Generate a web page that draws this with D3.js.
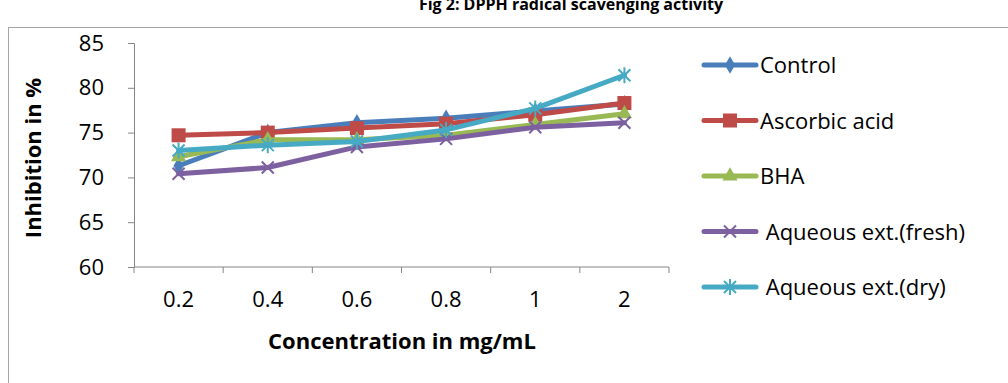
<!DOCTYPE html>
<html>
<head>
<meta charset="utf-8">
<script src="https://cdn.jsdelivr.net/npm/d3@7"></script>
<style>
  body { margin: 0; background: #fff; }
  svg { display: block; font-family: "Open Sans", "Liberation Sans", sans-serif; }
</style>
</head>
<body>
<div id="chart"></div>
<script>
// Data
const categories = ['0.2', '0.4', '0.6', '0.8', '1', '2'];
const seriesNames = ['Control', 'Ascorbic acid', 'BHA', ' Aqueous ext.(fresh)', ' Aqueous ext.(dry)'];
const controlValues = [71.3, 75.0, 76.1, 76.6, 77.4, 78.2];
const ascorbicValues = [74.7, 75.0, 75.5, 76.0, 77.0, 78.3];
const bhaValues = [72.3, 74.2, 74.2, 74.7, 75.9, 77.1];
const freshValues = [70.4, 71.1, 73.4, 74.3, 75.6, 76.1];
const dryValues = [73.0, 73.6, 74.0, 75.3, 77.7, 81.4];
const yTicks = [60, 65, 70, 75, 80, 85];

const colors = ['#4A7EBB', '#BE4B48', '#98B954', '#7D60A0', '#46AAC5'];
const markers = ['diamond', 'square', 'triangle', 'x', 'star'];
const allValues = [controlValues, ascorbicValues, bhaValues, freshValues, dryValues];

const width = 1008;
const height = 383;
const margin = { top: 43, right: 339, bottom: 116, left: 134 };
const fontFamily = '"Open Sans", sans-serif';

const svg = d3.select('#chart')
  .append('svg')
  .attr('width', width)
  .attr('height', height);

// outer frame
svg.append('rect')
  .attr('x', 8.5)
  .attr('y', 27.5)
  .attr('width', 1010)
  .attr('height', 400)
  .attr('fill', 'none')
  .attr('stroke', '#a6a6a6')
  .attr('stroke-width', 1);

// title (cut off at top in the reference)
svg.append('text')
  .attr('x', 571)
  .attr('y', 10)
  .attr('text-anchor', 'middle')
  .attr('font-size', '16px')
  .attr('font-weight', 'bold')
  .text('Fig 2: DPPH radical scavenging activity');

const x = d3.scaleBand()
  .domain(categories)
  .range([margin.left, width - margin.right]);

const y = d3.scaleLinear()
  .domain([60, 85])
  .range([height - margin.bottom, margin.top]);

// y axis
const yAxis = svg.append('g')
  .attr('transform', `translate(${margin.left},0)`)
  .call(d3.axisLeft(y).tickValues(yTicks).tickSize(6).tickPadding(24));
yAxis.selectAll('text').attr('font-size', '22px').attr('fill', '#000').attr('font-family', fontFamily);

// x axis: ticks at category boundaries
const xAxis = svg.append('g')
  .attr('transform', `translate(0,${y(60)})`)
  .call(d3.axisBottom(x).tickSize(0).tickPadding(24));
xAxis.selectAll('text').attr('font-size', '22px').attr('fill', '#000').attr('font-family', fontFamily);
const bounds = categories.map(c => x(c)).concat([x.range()[1]]);
xAxis.selectAll('.boundary')
  .data(bounds)
  .enter()
  .append('line')
  .attr('x1', d => d)
  .attr('x2', d => d)
  .attr('y1', 0)
  .attr('y2', 6)
  .attr('stroke', '#868686');

svg.selectAll('.domain, .tick line').attr('stroke', '#868686');
xAxis.select('.domain').attr('d', `M${margin.left},0H${width - margin.right}`);

// axis titles
svg.append('text')
  .attr('x', 402)
  .attr('y', 349)
  .attr('text-anchor', 'middle')
  .attr('font-size', '22px')
  .attr('font-weight', 'bold')
  .text('Concentration in mg/mL');

svg.append('text')
  .attr('transform', 'rotate(-90)')
  .attr('x', -158)
  .attr('y', 41)
  .attr('text-anchor', 'middle')
  .attr('font-size', '22px')
  .attr('font-weight', 'bold')
  .text('Inhibition in %');

function drawMarker(g, type, color, cx, cy) {
  if (type === 'diamond') {
    g.append('path').attr('d', d3.symbol(d3.symbolDiamond, 90)()).attr('transform', `translate(${cx},${cy})`).attr('fill', color);
  } else if (type === 'square') {
    g.append('rect').attr('x', cx - 7).attr('y', cy - 7).attr('width', 14).attr('height', 14).attr('fill', color);
  } else if (type === 'triangle') {
    g.append('path').attr('d', d3.symbol(d3.symbolTriangle, 100)()).attr('transform', `translate(${cx},${cy})`).attr('fill', color);
  } else if (type === 'x') {
    g.append('path').attr('d', `M${cx - 6},${cy - 6}L${cx + 6},${cy + 6}M${cx - 6},${cy + 6}L${cx + 6},${cy - 6}`)
      .attr('stroke', color).attr('stroke-width', 2).attr('fill', 'none');
  } else if (type === 'star') {
    g.append('path').attr('d', `M${cx - 6},${cy - 6}L${cx + 6},${cy + 6}M${cx - 6},${cy + 6}L${cx + 6},${cy - 6}M${cx},${cy - 8}L${cx},${cy + 8}`)
      .attr('stroke', color).attr('stroke-width', 2).attr('fill', 'none');
  }
}

const line = d3.line()
  .x((d, i) => x(categories[i]) + x.bandwidth() / 2)
  .y(d => y(d));

allValues.forEach((vals, s) => {
  const g = svg.append('g');
  g.append('path')
    .datum(vals)
    .attr('d', line)
    .attr('fill', 'none')
    .attr('stroke', colors[s])
    .attr('stroke-width', 5)
    .attr('stroke-linecap', 'round')
    .attr('stroke-linejoin', 'round');
  vals.forEach((v, i) => {
    drawMarker(g, markers[s], colors[s], x(categories[i]) + x.bandwidth() / 2, y(v));
  });
});

// legend
const legend = svg.append('g');
seriesNames.forEach((name, s) => {
  const ly = 65 + s * 55.5;
  legend.append('line')
    .attr('x1', 704).attr('x2', 756)
    .attr('y1', ly).attr('y2', ly)
    .attr('stroke', colors[s])
    .attr('stroke-width', 5)
    .attr('stroke-linecap', 'round');
  drawMarker(legend, markers[s], colors[s], 730, ly);
  legend.append('text')
    .attr('x', 760)
    .attr('y', ly + 8)
    .attr('font-size', '22px')
    .attr('xml:space', 'preserve')
    .style('white-space', 'pre')
    .text(name);
});
</script>
</body>
</html>
